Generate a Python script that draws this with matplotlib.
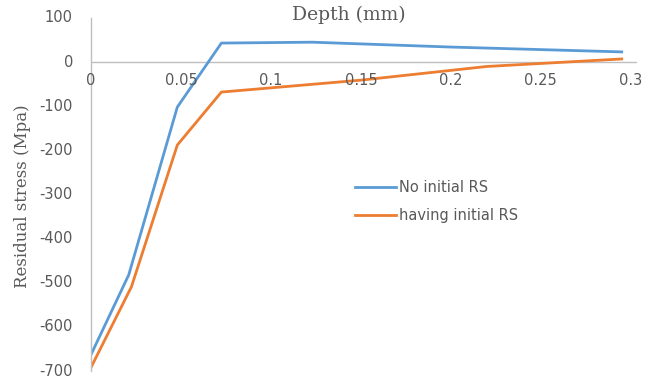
import matplotlib
matplotlib.use("Agg")
import matplotlib.pyplot as plt
from matplotlib.transforms import blended_transform_factory

# Depth (mm) and residual stress (MPa) for the two cases
depth_no_rs = [0.0, 0.021, 0.048, 0.0725, 0.123, 0.2, 0.295]
stress_no_rs = [-663, -482, -102, 43, 45, 34, 23]

depth_init_rs = [0.0, 0.0225, 0.048, 0.0725, 0.15, 0.22, 0.295]
stress_init_rs = [-692, -509, -188, -68, -41, -10, 7]

x_ticks = [0, 0.05, 0.1, 0.15, 0.2, 0.25, 0.3]
x_tick_labels = ["0", "0.05", "0.1", "0.15", "0.2", "0.25", "0.3"]
y_ticks = [100, 0, -100, -200, -300, -400, -500, -600, -700]

BLUE = "#5B9BD5"
ORANGE = "#ED7D31"
GREY_TXT = "#595959"
GREY_AX = "#BFBFBF"
TICK_FONT = "DejaVu Sans"
TITLE_FONT = "DejaVu Serif"

fig = plt.figure(figsize=(6.52, 3.81), dpi=100)
ax = fig.add_axes([0.1395, 0.026, 0.8375, 0.927])

ax.plot(depth_no_rs, stress_no_rs, color=BLUE, lw=2.0, label="No initial RS",
        solid_joinstyle="round")
ax.plot(depth_init_rs, stress_init_rs, color=ORANGE, lw=2.0, label="having initial RS",
        solid_joinstyle="round")

ax.set_xlim(0, 0.3035)
ax.set_ylim(-700, 100)

for s in ["top", "right", "bottom"]:
    ax.spines[s].set_visible(False)
ax.spines["left"].set_color(GREY_AX)
ax.spines["left"].set_linewidth(1.0)
ax.axhline(0, color=GREY_AX, lw=1.0, zorder=0)

# value-axis labels, right-aligned a fixed distance left of the vertical axis
ax.set_yticks([])
ytrans = blended_transform_factory(ax.transAxes, ax.transData)
for yv in y_ticks:
    ax.text(-0.033, yv, str(yv), transform=ytrans, ha="right", va="center",
            fontsize=10.5, color=GREY_TXT, family=TICK_FONT, clip_on=False)

# depth labels sit just under the zero line
ax.set_xticks([])
for xv, lbl in zip(x_ticks, x_tick_labels):
    ax.text(xv, -42, lbl, ha="center", va="center", fontsize=10.5,
            color=GREY_TXT, family=TICK_FONT)

fig.text(0.535, 0.961, "Depth (mm)", ha="center", va="center",
         fontsize=13.5, color=GREY_TXT, family=TITLE_FONT)
fig.text(0.035, 0.486, "Residual stress (Mpa)", rotation=90, ha="center", va="center",
         fontsize=12, color=GREY_TXT, family=TITLE_FONT)

leg = ax.legend(loc="upper left", bbox_to_anchor=(0.46, 0.577), frameon=False,
                handlelength=2.8, handletextpad=0.2, labelspacing=0.85,
                prop={"family": TICK_FONT, "size": 10.5})
for t in leg.get_texts():
    t.set_color(GREY_TXT)

fig.savefig("out.png", dpi=100)
